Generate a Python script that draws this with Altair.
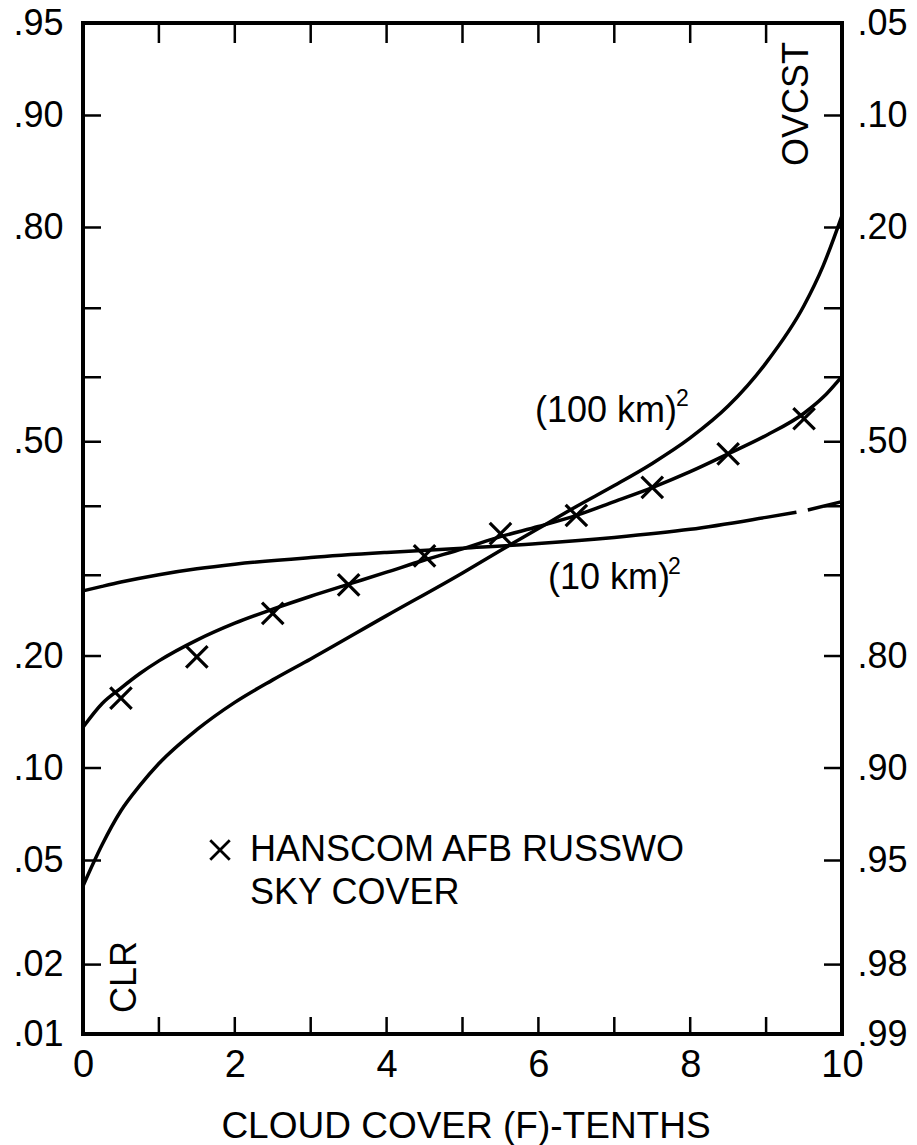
import altair as alt
import pandas as pd
from statistics import NormalDist

ND = NormalDist()


def probit(p):
    return ND.inv_cdf(p)


# ---------------- data ----------------
# (100 km)^2 curve
x_100 = [0, 0.25, 0.5, 0.75, 1, 1.5, 2, 2.5, 3, 4, 5, 5.5, 6, 6.5, 7, 7.5, 8, 8.5,
         9, 9.5, 9.75, 10]
p_100 = [0.0405, 0.0566, 0.0736, 0.0885, 0.1031, 0.129, 0.153, 0.1748, 0.1968,
         0.2473, 0.3032, 0.3348, 0.3666, 0.3996, 0.4317, 0.4661, 0.506, 0.5557,
         0.6217, 0.7037, 0.7549, 0.8129]

# (10 km)^2 curve (drawn in two pieces, small break near x = 9.5)
x_10a = [0, 0.25, 0.5, 1, 1.5, 2, 3, 4, 5, 6, 7, 8, 9, 9.4]
p_10a = [0.279, 0.285, 0.2908, 0.3008, 0.3089, 0.3153, 0.3246, 0.3318, 0.338,
         0.3446, 0.3535, 0.3654, 0.3832, 0.3909]
x_10b = [9.55, 10]
p_10b = [0.3943, 0.4071]

# curve drawn through the Hanscom observations
x_mid = [0, 0.25, 0.5, 0.75, 1, 1.5, 2, 2.5, 3, 3.5, 4, 4.5, 5, 5.5, 6, 6.5, 7,
         7.5, 8, 8.5, 9, 9.5, 9.75, 10]
p_mid = [0.131, 0.1517, 0.1666, 0.1813, 0.1947, 0.218, 0.2381, 0.2554, 0.272,
         0.2879, 0.3042, 0.3211, 0.337, 0.3546, 0.3696, 0.3862, 0.4071, 0.4286,
         0.4532, 0.481, 0.5099, 0.5446, 0.5692, 0.6015]

# Hanscom AFB RUSSWO sky cover observations
x_obs = [0.5, 1.5, 2.5, 3.5, 4.5, 5.5, 6.5, 7.5, 8.5, 9.5]
p_obs = [0.157, 0.199, 0.250, 0.287, 0.327, 0.359, 0.386, 0.429, 0.481, 0.536]

# axes
prob_ticks = [0.95, 0.90, 0.80, 0.70, 0.60, 0.50, 0.40, 0.30, 0.20, 0.10, 0.05, 0.02, 0.01]
prob_labels = [0.95, 0.90, 0.80, 0.50, 0.20, 0.10, 0.05, 0.02, 0.01]
x_minor = [1, 2, 3, 4, 5, 6, 7, 8, 9]
x_labels = [0, 2, 4, 6, 8, 10]
P_MIN, P_MAX = 0.01, 0.95

# ---------------- tables ----------------
rows = []
for name, xs_, ps_ in [("100km", x_100, p_100), ("10km_a", x_10a, p_10a),
                       ("10km_b", x_10b, p_10b), ("mid", x_mid, p_mid)]:
    for xv, pv in zip(xs_, ps_):
        rows.append({"seg": name, "x": xv, "p": pv, "z": probit(pv)})
curve_df = pd.DataFrame(rows)
obs_df = pd.DataFrame({"x": x_obs, "p": p_obs, "z": [probit(p) for p in p_obs]})
ytick_df = pd.DataFrame({"z": [probit(p) for p in prob_ticks]})
xtick_df = pd.DataFrame({"x": x_minor})

W, H = 759, 1011
FONT = "Liberation Sans"
XSHAPE = "M-1,-1L1,1M-1,1L1,-1"

xs = alt.Scale(domain=[0, 10], nice=False, zero=False)
ys = alt.Scale(domain=[probit(P_MIN), probit(P_MAX)], nice=False, zero=False)

curves = alt.Chart(curve_df).mark_line(
    color="black", strokeWidth=3.5, interpolate="monotone"
).encode(
    x=alt.X("x:Q", scale=xs, axis=alt.Axis(
        values=x_labels, orient="bottom", ticks=False, tickSize=0, domain=False,
        grid=False, labelFontSize=38, labelPadding=12, labelFlush=False,
        labelColor="black", labelFont=FONT, title="")),
    y=alt.Y("z:Q", scale=ys, axis=alt.Axis(
        values=[probit(p) for p in prob_labels], orient="left", ticks=False,
        tickSize=0, domain=False, grid=False, labelFontSize=36, labelPadding=20,
        labelColor="black", labelFont=FONT, labelOverlap=False, labelFlush=False,
        labelExpr="substring(format(cumulativeNormal(datum.value), '.2f'), 1)",
        title="")),
    detail="seg:N",
)

obs = alt.Chart(obs_df).mark_point(
    shape=XSHAPE, size=460, filled=False, strokeWidth=3.2, color="black", opacity=1
).encode(
    x=alt.X("x:Q", scale=xs, axis=None),
    y=alt.Y("z:Q", scale=ys, axis=None),
)

left_ticks = alt.Chart(ytick_df).mark_rule(color="black", strokeWidth=2.5).encode(
    y=alt.Y("z:Q", scale=ys, axis=None), x=alt.value(0), x2=alt.value(18)
)
right_ticks = alt.Chart(ytick_df).mark_rule(color="black", strokeWidth=2.5).encode(
    y=alt.Y("z:Q", scale=ys, axis=alt.Axis(
        values=[probit(p) for p in prob_labels], orient="right", ticks=False,
        tickSize=0, domain=False, grid=False, labelFontSize=36, labelPadding=15,
        labelColor="black", labelFont=FONT, labelOverlap=False, labelFlush=False,
        labelExpr="substring(format(1 - cumulativeNormal(datum.value), '.2f'), 1)",
        title="")),
    x=alt.value(W - 18), x2=alt.value(W),
)
top_ticks = alt.Chart(xtick_df).mark_rule(color="black", strokeWidth=2.5).encode(
    x=alt.X("x:Q", scale=xs, axis=None), y=alt.value(0), y2=alt.value(20)
)
bottom_ticks = alt.Chart(xtick_df).mark_rule(color="black", strokeWidth=2.5).encode(
    x=alt.X("x:Q", scale=xs, axis=None), y=alt.value(H - 17), y2=alt.value(H)
)


def label(text, x, y, size=36, angle=0, align="left"):
    return alt.Chart(pd.DataFrame({"t": [text]})).mark_text(
        font=FONT, fontSize=size, color="black", align=align, baseline="middle",
        angle=angle
    ).encode(text="t:N", x=alt.value(x), y=alt.value(y))


lab100 = label("(100 km)", 452, 388)
sup100 = label("2", 593, 376, size=23)
lab10 = label("(10 km)", 465, 555)
sup10 = label("2", 585, 544, size=23)
ovcst = label("OVCST", 714, 81, angle=270, align="center")
clr = label("CLR", 42, 954, angle=270, align="center")
leg1 = label("HANSCOM AFB RUSSWO", 167, 827)
leg2 = label("SKY COVER", 167, 870)
xtitle = label("CLOUD COVER (F)-TENTHS", 383, 1104, size=37, align="center")
leg_mark = alt.Chart(pd.DataFrame({"t": ["x"]})).mark_point(
    shape=XSHAPE, size=380, filled=False, strokeWidth=2.8, color="black", opacity=1
).encode(x=alt.value(137), y=alt.value(827))

chart = alt.layer(
    curves, right_ticks, obs, left_ticks, top_ticks, bottom_ticks,
    lab100, sup100, lab10, sup10, ovcst, clr, leg1, leg2, xtitle, leg_mark
).resolve_axis(
    x="independent", y="independent"
).properties(
    width=W, height=H,
    autosize=alt.AutoSizeParams(type="none"),
    padding={"left": 83, "top": 23, "right": 75, "bottom": 111},
    background="white",
).configure_view(
    stroke="black", strokeWidth=4
)

chart.save("out.html", embed_options={"renderer": "svg", "actions": False})
